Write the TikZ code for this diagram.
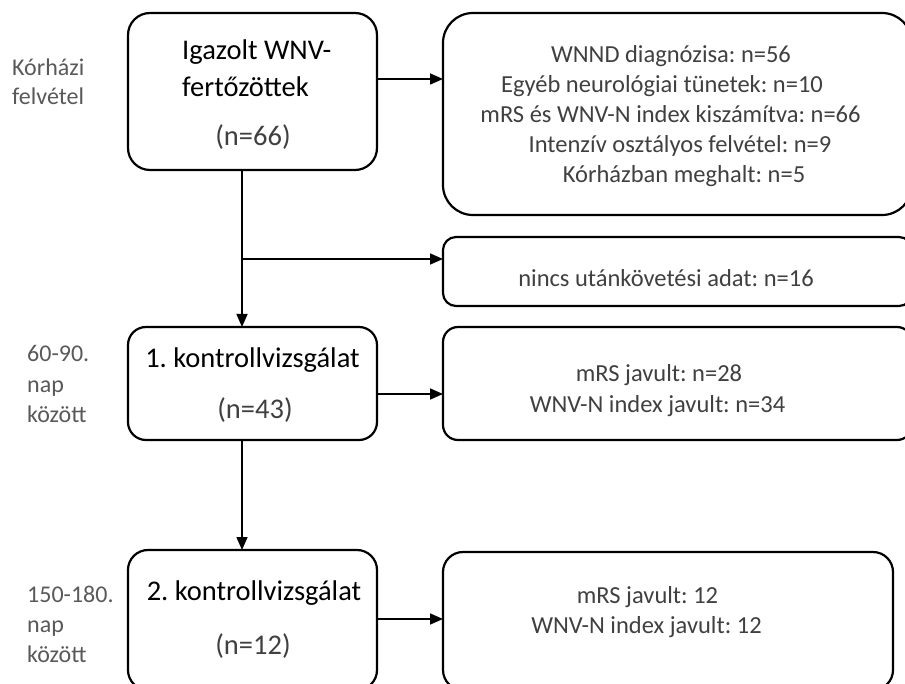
\documentclass[tikz,border=0pt]{standalone}
\usepackage{fontspec}
\setmainfont{Carlito}
\usetikzlibrary{arrows.meta}
\definecolor{txtgray}{HTML}{404040}
\definecolor{lblgray}{HTML}{595959}
\frenchspacing
\begin{document}
\begin{tikzpicture}[x=1pt,y=-1pt,
  box/.style={draw=black, line width=2.2pt, fill=white, inner sep=0pt, outer sep=0pt, anchor=north west},
  conn/.style={draw=black, line width=1.6pt},
  arr/.style={conn, -{Triangle[length=13pt,width=11pt]}},
  bigtxt/.style={inner sep=0pt, anchor=base, font=\fontsize{28.5}{34}\selectfont},
  boxtxt/.style={inner sep=0pt, anchor=base, text=txtgray, font=\fontsize{24.5}{30}\selectfont},
  sidetxt/.style={inner sep=0pt, anchor=base west, text=lblgray, font=\fontsize{24}{29}\selectfont}]
\useasboundingbox (0,0) rectangle (905,684);
\clip (0,0) rectangle (905,684);
\fill[white] (0,0) rectangle (905,684);

% boxes
\node[box, rounded corners=22pt, minimum width=249pt, minimum height=157pt] (L1) at (128,13) {};
\node[box, rounded corners=30pt, minimum width=469pt, minimum height=202pt] (R1) at (443,13) {};
\node[box, rounded corners=13pt, minimum width=469pt, minimum height=69pt] (R2) at (443,237) {};
\node[box, rounded corners=18pt, minimum width=249pt, minimum height=113pt] (L2) at (128,327) {};
\node[box, rounded corners=15pt, minimum width=469pt, minimum height=113pt] (R3) at (443,327) {};
\node[box, rounded corners=20pt, minimum width=249pt, minimum height=140pt] (L3) at (128,550) {};
\node[box, rounded corners=20pt, minimum width=450pt, minimum height=138pt] (R4) at (443,552) {};

% texts of left boxes
\node[bigtxt, anchor=base west] (L1a) at (182,60) {Igazolt WNV-};
\node[bigtxt, anchor=base west] (L1b) at (182,97) {fertőzöttek};
\node[bigtxt, text=txtgray] (L1c) at (253,146) {(n=66)};
\node[bigtxt] (L2a) at (252.5,368) {1. kontrollvizsgálat};
\node[bigtxt, text=txtgray] (L2b) at (255,419) {(n=43)};
\node[bigtxt] (L3a) at (254,600) {2. kontrollvizsgálat};
\node[bigtxt, text=txtgray] (L3b) at (253,654) {(n=12)};

% texts of right boxes
\node[boxtxt] (R1a) at (671,63) {WNND diagnózisa: n=56};
\node[boxtxt] (R1b) at (662,93) {Egyéb neurológiai tünetek: n=10};
\node[boxtxt] (R1c) at (670.5,123) {mRS és WNV-N index kiszámítva: n=66};
\node[boxtxt] (R1d) at (680,153) {Intenzív osztályos felvétel: n=9};
\node[boxtxt] (R1e) at (684,183) {Kórházban meghalt: n=5};
\node[boxtxt] (R2a) at (666,287) {nincs utánkövetési adat: n=16};
\node[boxtxt] (R3a) at (659,382) {mRS javult: n=28};
\node[boxtxt] (R3b) at (657.5,413) {WNV-N index javult: n=34};
\node[boxtxt] (R4a) at (647.5,603) {mRS javult: 12};
\node[boxtxt] (R4b) at (646.5,633) {WNV-N index javult: 12};

% side labels
\node[sidetxt] (S1a) at (12,76) {Kórházi};
\node[sidetxt] (S1b) at (12,105) {felvétel};
\node[sidetxt] (S2a) at (27,362) {60-90.};
\node[sidetxt] (S2b) at (27,392) {nap};
\node[sidetxt] (S2c) at (27,422) {között};
\node[sidetxt] (S3a) at (27,602) {150-180.};
\node[sidetxt] (S3b) at (27,632) {nap};
\node[sidetxt] (S3c) at (27,662) {között};

% connectors
\coordinate (trunk) at (242,0);
\coordinate (br) at (242,259);
\coordinate (y1) at (0,79);
\coordinate (y2) at (0,394);
\coordinate (y3) at (0,619);
\draw[arr] (L1.east |- y1) -- (R1.west |- y1);
\draw[arr] (L1.south -| trunk) -- (L2.north -| trunk);
\draw[arr] (br) -- (R2.west |- br);
\draw[arr] (L2.east |- y2) -- (R3.west |- y2);
\draw[arr] (L2.south -| trunk) -- (L3.north -| trunk);
\draw[arr] (L3.east |- y3) -- (R4.west |- y3);
\end{tikzpicture}
\end{document}
